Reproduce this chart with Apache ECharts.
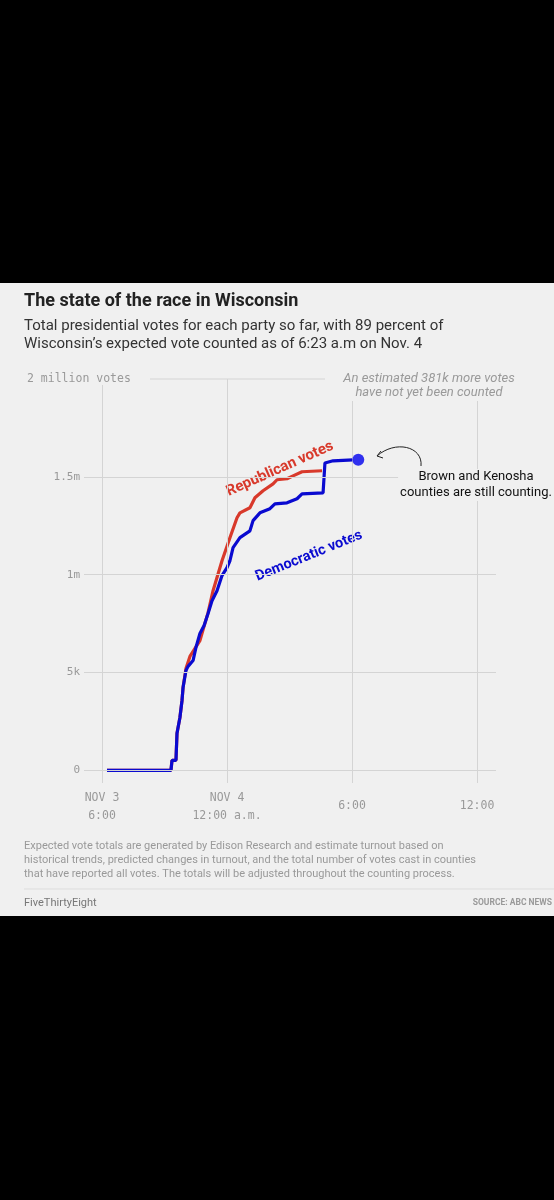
<!DOCTYPE html>
<html><head><meta charset="utf-8">
<script src="https://cdn.jsdelivr.net/npm/echarts@6/dist/echarts.min.js"></script>
<style>html,body{margin:0;background:#000;}#c{width:554px;height:1200px;}</style>
</head><body><div id="c"></div>
<script>
// hours after Nov 3, 6:00 p.m. ; votes in millions
const demHours = [0.24,3.31,3.36,3.55,3.6,3.74,3.84,3.89,4.03,4.13,4.37,4.51,4.70,4.90,5.09,5.28,5.52,5.76,6.0,6.14,6.29,6.62,7.10,7.25,7.58,8.06,8.30,8.88,9.36,9.6,10.61,10.70,11.09,12.05];
const demVotes = [0,0,0.051,0.051,0.189,0.27,0.357,0.423,0.51,0.531,0.561,0.628,0.699,0.74,0.801,0.867,0.918,0.995,1.036,1.071,1.138,1.189,1.224,1.276,1.316,1.337,1.362,1.367,1.388,1.413,1.418,1.571,1.582,1.587];
const repHours = [0.24,3.31,3.36,3.55,3.6,3.74,3.84,3.89,4.03,4.22,4.70,5.09,5.33,5.76,6.14,6.48,6.62,7.10,7.34,7.73,8.21,8.40,8.88,9.17,9.6,10.56];
const repVotes = [0,0,0.051,0.051,0.189,0.27,0.357,0.423,0.52,0.582,0.663,0.806,0.918,1.071,1.189,1.291,1.316,1.342,1.393,1.429,1.464,1.485,1.490,1.505,1.526,1.531];
const dotPoint = [12.3, 1.587];
const yTicks = [0, 0.5, 1, 1.5];
const yTickLabels = ['0', '5k', '1m', '1.5m'];
const xTicks = [0, 6, 12, 18];
const xTickLabels = [['NOV 3','6:00'], ['NOV 4','12:00 a.m.'], ['6:00'], ['12:00']];

const chart = echarts.init(document.getElementById('c'));
const mono = 'DejaVu Sans Mono';
const gridCol = '#d4d4d4';
chart.setOption({
  backgroundColor: '#000',
  animation: false,
  grid: {left: 84, top: 379, width: 412, height: 404},
  xAxis: {type: 'value', min: -0.864, max: 18.91, show: false},
  yAxis: {type: 'value', min: -0.065, max: 2, show: false},
  graphic: [{type:'rect', z:-10, shape:{x:0,y:283,width:554,height:633}, style:{fill:'#f0f0f0'}}],
  series: [
    {type:'line', data: repHours.map((h,i)=>[h,repVotes[i]]), symbol:'none',
     lineStyle:{color:'#d8392b', width:3.2}, z:3,
     markLine:{silent:true, symbol:'none', label:{show:false},
       lineStyle:{color:gridCol, width:1, type:'solid'},
       data: yTicks.map(v=>({yAxis:v})).concat(xTicks.map(v=>({xAxis:v})))}},
    {type:'line', data: demHours.map((h,i)=>[h,demVotes[i]]), symbol:'none',
     lineStyle:{color:'#0a0ad0', width:3.2}, z:4},
    {type:'scatter', data:[dotPoint], symbolSize:12, itemStyle:{color:'#0000ee'}, z:5}
  ]
});

const g = [{type:'rect', z:-10, shape:{x:0,y:283,width:554,height:633}, style:{fill:'#f0f0f0'}}];
yTicks.forEach((v,i)=>{
  const p = chart.convertToPixel({gridIndex:0},[0,v]);
  g.push({type:'text', x:80, y:p[1], style:{text:yTickLabels[i], font:'11px '+mono, fill:'#999', align:'right', verticalAlign:'middle'}});
});
xTicks.forEach((v,i)=>{
  const p = chart.convertToPixel({gridIndex:0},[v,0]);
  const lines = xTickLabels[i];
  g.push({type:'text', x:p[0], y: lines.length===2? 807 : 806, style:{text:lines.join('\n'), font:'11.5px '+mono, fill:'#999', align:'center', verticalAlign:'middle', lineHeight:18}});
});
const top2 = chart.convertToPixel({gridIndex:0},[0,2]);
g.push({type:'line', shape:{x1:150,y1:top2[1],x2:330,y2:top2[1]}, style:{stroke:gridCol,lineWidth:1}, z:5});
g.push({type:'rect', shape:{x:325,y:371,width:205,height:30}, style:{fill:'#f0f0f0'}, z:6});
g.push({type:'rect', shape:{x:20,y:371,width:130,height:14}, style:{fill:'#f0f0f0'}, z:6});
g.push({type:'text', x:27, y:379, z:7, style:{text:'2 million votes', font:'11.5px '+mono, fill:'#999', verticalAlign:'middle'}});
g.push({type:'text', x:429, y:386, z:7, style:{text:'An estimated 381k more votes\nhave not yet been counted', font:'italic 13px Roboto', fill:'#999', align:'center', verticalAlign:'middle', lineHeight:14}});
g.push({type:'text', x:24, y:301, style:{text:'The state of the race in Wisconsin', font:'bold 18px Roboto', fill:'#222', verticalAlign:'middle'}});
g.push({type:'text', x:24, y:335, style:{text:'Total presidential votes for each party so far, with 89 percent of\nWisconsin\u2019s expected vote counted as of 6:23 a.m on Nov. 4', font:'15px Roboto', fill:'#333', verticalAlign:'middle', lineHeight:18}});
g.push({type:'text', x:280, y:469, rotation:24*Math.PI/180, style:{text:'Republican votes', font:'bold 15px Roboto', fill:'#d8392b', align:'center', verticalAlign:'middle'}});
g.push({type:'text', x:309, y:556, rotation:22*Math.PI/180, style:{text:'Democratic votes', font:'bold 14.5px Roboto', fill:'#0a0ad0', align:'center', verticalAlign:'middle'}});
g.push({type:'text', x:476, y:485, z:7, style:{text:'Brown and Kenosha\ncounties are still counting.', font:'13px Roboto', fill:'#111', align:'center', verticalAlign:'middle', lineHeight:16, backgroundColor:'#f0f0f0', padding:[0,2]}});
g.push({type:'bezierCurve', shape:{x1:421,y1:466,x2:377,y2:456,cpx1:423,cpy1:446,cpx2:395,cpy2:440}, style:{stroke:'#222',lineWidth:1,fill:null}});
g.push({type:'polyline', shape:{points:[[381,451],[377,456],[383,458]]}, style:{stroke:'#222',lineWidth:1,fill:null}});
g.push({type:'text', x:24, y:860, style:{text:'Expected vote totals are generated by Edison Research and estimate turnout based on\nhistorical trends, predicted changes in turnout, and the total number of votes cast in counties\nthat have reported all votes. The totals will be adjusted throughout the counting process.', font:'11px Roboto', fill:'#999', verticalAlign:'middle', lineHeight:14}});
g.push({type:'line', shape:{x1:24,y1:889,x2:554,y2:889}, style:{stroke:'#ddd',lineWidth:1}});
g.push({type:'text', x:24, y:903, style:{text:'FiveThirtyEight', font:'11px Roboto', fill:'#777', verticalAlign:'middle'}});
g.push({type:'text', x:552, y:903, style:{text:'SOURCE: ABC NEWS', font:'bold 8.5px Roboto', fill:'#999', align:'right', verticalAlign:'middle'}});
chart.setOption({graphic: g});
</script></body></html>
